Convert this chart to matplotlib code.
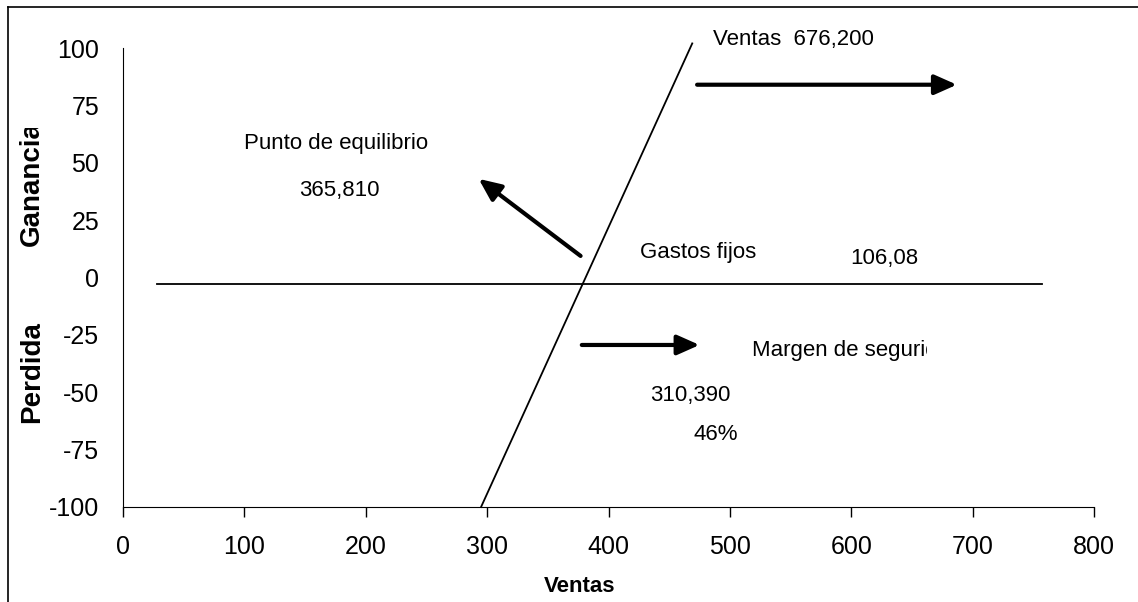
import matplotlib
matplotlib.use("Agg")
import matplotlib.pyplot as plt
from matplotlib.lines import Line2D
from matplotlib.patches import Rectangle

plt.rcParams['font.family'] = ['Liberation Sans', 'DejaVu Sans']
plt.rcParams['axes.unicode_minus'] = False

# data
x_ticks = [0, 100, 200, 300, 400, 500, 600, 700, 800]
y_ticks = [-100, -75, -50, -25, 0, 25, 50, 75, 100]
ventas_x = [295, 469]
ventas_y = [-100, 102]
gastos_x = [28, 757]
gastos_y = [-3, -3]

# arrows: (tail x, tail y, head x, head y)
arrow_ventas = (473, 84, 687, 84)
arrow_punto = (377, 9.4, 293, 43)
arrow_margen = (378, -29.4, 475, -29.4)

labels = [
    ("Ventas  676,200", 486, 103.5),
    ("Punto de equilibrio", 100, 58.6),
    ("365,810", 145, 38.1),
    ("Gastos fijos", 426, 10.7),
    ("106,08", 599, 8.1),
    ("310,390", 434, -51.2),
    ("46%", 470, -68.6),
]

W, H = 1138, 602
fig = plt.figure(figsize=(W / 100, H / 100), dpi=100)
ax = fig.add_axes([123 / W, 1 - 507 / H, (1094 - 123) / W, (507 - 48) / H])

ax.plot(ventas_x, ventas_y, color='black', lw=1.3, clip_on=False)
ax.plot(gastos_x, gastos_y, color='black', lw=1.3, clip_on=False)

for a in [arrow_ventas, arrow_punto, arrow_margen]:
    ax.annotate('', xy=(a[2], a[3]), xytext=(a[0], a[1]),
                arrowprops=dict(arrowstyle='-|>,head_length=0.9,head_width=0.4',
                                mutation_scale=15, color='black', lw=3,
                                shrinkA=0, shrinkB=0),
                annotation_clip=False)

for txt, x, y in labels:
    ax.text(x, y, txt, fontsize=16, ha='left', va='center', clip_on=False)

# clipped label on the right
t = ax.text(518, -31.6, "Margen de seguridad", fontsize=16, ha='left', va='center')
t.set_clip_on(True)
t.set_clip_path(Rectangle((0, 0), 927 / W, 1, transform=fig.transFigure))

ax.set_xlim(0, 800)
ax.set_ylim(-100, 100)
ax.set_xticks(x_ticks)
ax.set_yticks(y_ticks)
ax.tick_params(axis='x', direction='out', length=7, width=1, pad=13, labelsize=18)
ax.tick_params(axis='y', length=0, pad=17, labelsize=18)
ax.spines['top'].set_visible(False)
ax.spines['right'].set_visible(False)
ax.set_xlabel("Ventas", fontsize=16, fontweight='bold', va='center')
ax.xaxis.set_label_coords(0.47, -0.174)

fig.text(32 / W, 1 - 372 / H, "Perdida", rotation=90, fontsize=20, fontweight='bold',
         ha='center', va='center')
g = fig.text(32 / W, 1 - 246 / H, "Ganancia", rotation=90, fontsize=20, fontweight='bold',
             ha='center', va='bottom')
g.set_clip_on(True)
g.set_clip_path(Rectangle((0, 0), 1, 1 - 128 / H, transform=fig.transFigure))

# frame lines on top and left (the rest is cropped away)
fig.add_artist(Line2D([8 / W, 1], [1 - 7 / H, 1 - 7 / H], color='black', lw=1.2,
                      transform=fig.transFigure))
fig.add_artist(Line2D([8 / W, 8 / W], [0, 1 - 7 / H], color='black', lw=1.2,
                      transform=fig.transFigure))

fig.savefig("out.png", dpi=100)
